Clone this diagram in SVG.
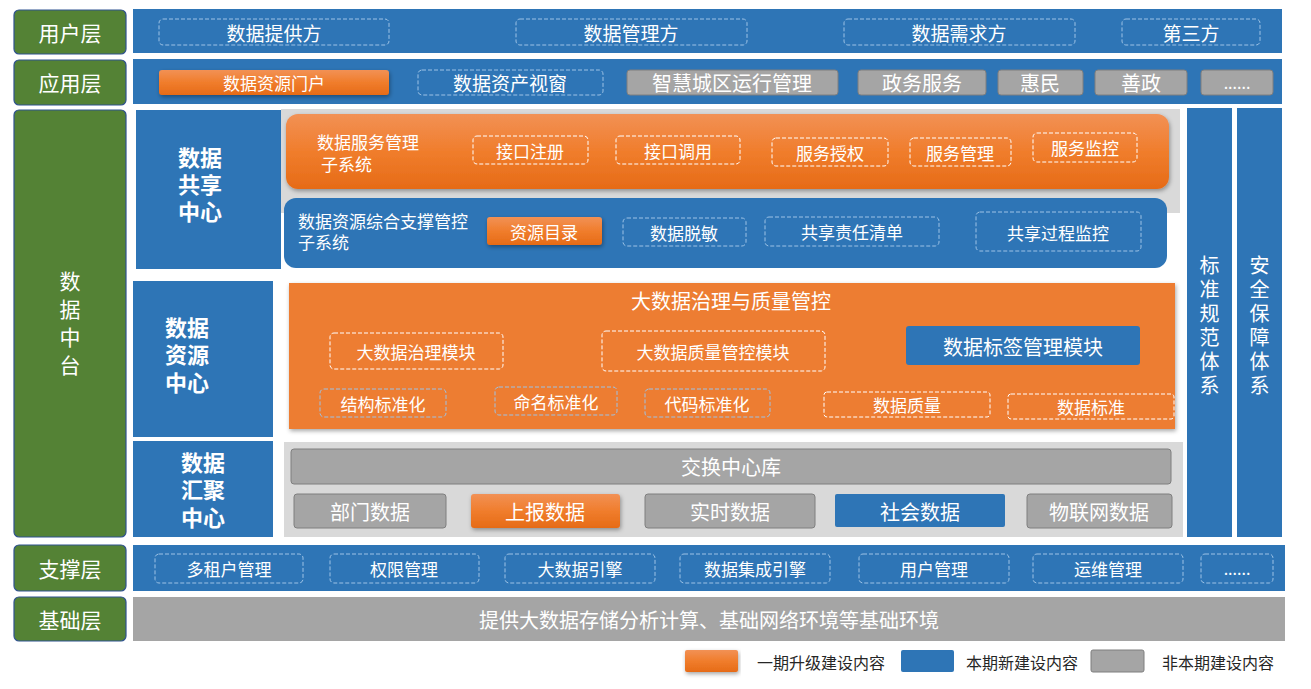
<svg xmlns="http://www.w3.org/2000/svg" width="1311" height="689" viewBox="0 0 1311 689">
<defs>
<linearGradient id="og" x1="0" y1="0" x2="0" y2="1">
<stop offset="0" stop-color="#f29155"/>
<stop offset="0.5" stop-color="#f07d2c"/>
<stop offset="1" stop-color="#e66b17"/>
</linearGradient>
<filter id="sh" x="-5%" y="-20%" width="110%" height="150%">
<feDropShadow dx="1" dy="2" stdDeviation="2" flood-color="#000" flood-opacity="0.35"/>
</filter>
</defs>
<style>
text{font-family:"Noto Sans CJK SC","Microsoft YaHei",sans-serif;fill:#fff;}
.ml{font-family:"Liberation Sans","Noto Sans CJK SC",sans-serif;}
.c{text-anchor:middle;dominant-baseline:central;}
.grn{fill:#548235;stroke:#2f528f;stroke-width:1.2;}
.blu{fill:#2e75b6;}
.gry{fill:#a5a5a5;stroke:#7f7f7f;stroke-width:1;}
.dl{fill:none;stroke:#9dc3e6;stroke-width:1;stroke-dasharray:4 2;}
.dw{fill:none;stroke:#fff;stroke-width:1;stroke-dasharray:4 2;}
.t21{font-size:21px;}
.t20{font-size:20px;}
.t19{font-size:19px;}
.t17{font-size:17px;}
.t16{font-size:16px;}
.b{font-size:22px;font-weight:bold;}
.v{writing-mode:vertical-rl;glyph-orientation-vertical:0;}
.lg{font-size:16px;fill:#262626;dominant-baseline:central;}
</style>

<!-- 用户层 -->
<g id="layer-user">
<rect class="grn" x="14" y="10" width="112" height="44" rx="5"/>
<text class="c t21" x="70" y="32">用户层</text>
<rect class="blu" x="133" y="9" width="1149" height="44"/>
<rect class="dl" x="159" y="19" width="230" height="26" rx="4"/>
<text class="c t19" x="274" y="32">数据提供方</text>
<rect class="dl" x="516" y="19" width="231" height="26" rx="4"/>
<text class="c t19" x="631" y="32">数据管理方</text>
<rect class="dl" x="844" y="19" width="231" height="26" rx="4"/>
<text class="c t19" x="959" y="32">数据需求方</text>
<rect class="dl" x="1122" y="19" width="138" height="26" rx="4"/>
<text class="c t19" x="1191" y="32">第三方</text>
</g>

<!-- 应用层 -->
<g id="layer-app">
<rect class="grn" x="14" y="60" width="112" height="45" rx="5"/>
<text class="c t21" x="70" y="82">应用层</text>
<rect class="blu" x="133" y="59" width="1149" height="45"/>
<rect x="159" y="70" width="230" height="25" rx="3" fill="url(#og)" filter="url(#sh)"/>
<text class="c t17" x="274" y="82">数据资源门户</text>
<rect class="dl" x="418" y="70" width="185" height="25" rx="4"/>
<text class="c t19" x="510" y="82">数据资产视窗</text>
<rect class="gry" x="627" y="70" width="211" height="25" rx="3"/>
<text class="c t20" x="732" y="82">智慧城区运行管理</text>
<rect class="gry" x="858" y="70" width="128" height="25" rx="3"/>
<text class="c t20" x="922" y="82">政务服务</text>
<rect class="gry" x="998" y="70" width="85" height="25" rx="3"/>
<text class="c t20" x="1040" y="82">惠民</text>
<rect class="gry" x="1095" y="70" width="92" height="25" rx="3"/>
<text class="c t20" x="1141" y="82">善政</text>
<rect class="gry" x="1201" y="70" width="72" height="25" rx="3"/>
<text class="c t16" x="1237" y="82">......</text>
</g>

<!-- 数据中台 -->
<g id="data-platform">
<rect class="grn" x="14" y="110" width="112" height="427" rx="5"/>
<text class="t21 v" x="70" y="271" letter-spacing="7">数据中台</text>
</g>

<!-- 标准规范体系 -->
<g id="standard-system">
<rect class="blu" x="1187" y="108" width="45" height="429"/>
<text class="t20 v" x="1209.5" y="255" letter-spacing="4">标准规范体系</text>
</g>

<!-- 安全保障体系 -->
<g id="security-system">
<rect class="blu" x="1237" y="108" width="45" height="429"/>
<text class="t20 v" x="1259.5" y="255" letter-spacing="4">安全保障体系</text>
</g>

<!-- 数据共享中心 -->
<g id="sharing-center">
<rect class="blu" x="136" y="110" width="145" height="159"/>
<text class="b ml"><tspan x="178" y="166">数据</tspan><tspan x="178" y="193">共享</tspan><tspan x="178" y="220">中心</tspan></text>
<rect x="281" y="109" width="899" height="104" fill="#d9d9d9"/>
</g>

<g id="service-subsystem">
<rect x="286" y="114" width="883" height="75" rx="12" fill="url(#og)" filter="url(#sh)"/>
<text class="t17 ml"><tspan x="317" y="149">数据服务管理</tspan><tspan x="321" y="171">子系统</tspan></text>
<rect class="dw" x="473" y="136" width="115" height="28" rx="4"/>
<text class="c t17" x="530" y="150">接口注册</text>
<rect class="dw" x="616" y="136" width="124" height="28" rx="4"/>
<text class="c t17" x="678" y="150">接口调用</text>
<rect class="dw" x="772" y="138" width="116" height="28" rx="4"/>
<text class="c t17" x="830" y="152">服务授权</text>
<rect class="dw" x="910" y="138" width="101" height="28" rx="4"/>
<text class="c t17" x="960" y="152">服务管理</text>
<rect class="dw" x="1033" y="133" width="104" height="29" rx="4"/>
<text class="c t17" x="1085" y="147">服务监控</text>
</g>

<g id="support-subsystem">
<rect class="blu" x="284" y="198" width="883" height="70" rx="12"/>
<text class="t17 ml"><tspan x="298" y="228">数据资源综合支撑管控</tspan><tspan x="298" y="249">子系统</tspan></text>
<rect x="487" y="217" width="115" height="28" rx="3" fill="url(#og)" filter="url(#sh)"/>
<text class="c t17" x="544" y="231">资源目录</text>
<rect class="dl" x="623" y="218" width="123" height="28" rx="4"/>
<text class="c t17" x="684" y="232">数据脱敏</text>
<rect class="dl" x="765" y="217" width="174" height="29" rx="4"/>
<text class="c t17" x="852" y="231">共享责任清单</text>
<rect class="dl" x="976" y="212" width="165" height="39" rx="4"/>
<text class="c t17" x="1058" y="232">共享过程监控</text>
</g>

<!-- 数据资源中心 -->
<g id="resource-center">
<rect class="blu" x="133" y="281" width="140" height="156"/>
<text class="b ml"><tspan x="165" y="336">数据</tspan><tspan x="165" y="363">资源</tspan><tspan x="165" y="391">中心</tspan></text>
</g>

<g id="governance">
<rect x="289" y="283" width="886" height="146" fill="#ed7d31" filter="url(#sh)"/>
<text class="c t20" x="731" y="300">大数据治理与质量管控</text>
<rect class="dw" x="330" y="333" width="173" height="36" rx="4"/>
<text class="c t17" x="416" y="351">大数据治理模块</text>
<rect class="dw" x="602" y="331" width="223" height="40" rx="4"/>
<text class="c t17" x="713" y="351">大数据质量管控模块</text>
<rect x="906" y="326" width="234" height="39" rx="3" fill="#2e75b6"/>
<text class="c t20" x="1023" y="346">数据标签管理模块</text>
<rect class="dl" x="320" y="389" width="126" height="28" rx="4"/>
<text class="c t17" x="383" y="403">结构标准化</text>
<rect class="dl" x="495" y="387" width="122" height="28" rx="4"/>
<text class="c t17" x="556" y="401">命名标准化</text>
<rect class="dl" x="645" y="389" width="125" height="28" rx="4"/>
<text class="c t17" x="707" y="403">代码标准化</text>
<rect class="dw" x="824" y="392" width="166" height="25" rx="3"/>
<text class="c t17" x="907" y="404">数据质量</text>
<rect class="dw" x="1008" y="394" width="166" height="25" rx="3"/>
<text class="c t17" x="1091" y="406">数据标准</text>
</g>

<!-- 数据汇聚中心 -->
<g id="aggregation-center">
<rect class="blu" x="133" y="441" width="140" height="96"/>
<text class="b ml"><tspan x="181" y="471">数据</tspan><tspan x="181" y="498">汇聚</tspan><tspan x="181" y="526">中心</tspan></text>
</g>

<g id="exchange">
<rect x="284" y="442" width="899" height="95" fill="#d9d9d9"/>
<rect class="gry" x="291" y="449" width="880" height="35" rx="3"/>
<text class="c t20" x="731" y="466">交换中心库</text>
<rect class="gry" x="294" y="494" width="152" height="34" rx="3"/>
<text class="c t20" x="370" y="511">部门数据</text>
<rect x="471" y="494" width="149" height="34" rx="3" fill="url(#og)" filter="url(#sh)"/>
<text class="c t20" x="545" y="511">上报数据</text>
<rect class="gry" x="645" y="494" width="170" height="34" rx="3"/>
<text class="c t20" x="730" y="511">实时数据</text>
<rect x="835" y="494" width="170" height="33" rx="2" fill="#2e75b6"/>
<text class="c t20" x="920" y="511">社会数据</text>
<rect class="gry" x="1027" y="494" width="145" height="34" rx="3"/>
<text class="c t20" x="1099" y="511">物联网数据</text>
</g>

<!-- 支撑层 -->
<g id="layer-support">
<rect class="grn" x="14" y="545" width="112" height="46" rx="5"/>
<text class="c t21" x="70" y="568">支撑层</text>
<rect class="blu" x="133" y="545" width="1152" height="46"/>
<rect class="dl" x="155" y="554" width="148" height="29" rx="4"/>
<text class="c t17" x="229" y="568">多租户管理</text>
<rect class="dl" x="330" y="554" width="149" height="29" rx="4"/>
<text class="c t17" x="404" y="568">权限管理</text>
<rect class="dl" x="505" y="554" width="150" height="29" rx="4"/>
<text class="c t17" x="580" y="568">大数据引擎</text>
<rect class="dl" x="680" y="554" width="150" height="29" rx="4"/>
<text class="c t17" x="755" y="568">数据集成引擎</text>
<rect class="dl" x="859" y="554" width="150" height="29" rx="4"/>
<text class="c t17" x="934" y="568">用户管理</text>
<rect class="dl" x="1033" y="554" width="150" height="29" rx="4"/>
<text class="c t17" x="1108" y="568">运维管理</text>
<rect class="dl" x="1201" y="554" width="72" height="29" rx="4"/>
<text class="c t16" x="1237" y="568">......</text>
</g>

<!-- 基础层 -->
<g id="layer-base">
<rect class="grn" x="14" y="597" width="112" height="44" rx="5"/>
<text class="c t21" x="70" y="619">基础层</text>
<rect x="133" y="597" width="1152" height="44" fill="#a5a5a5"/>
<text class="c t20" x="709" y="619">提供大数据存储分析计算、基础网络环境等基础环境</text>
</g>

<!-- 图例 -->
<g id="legend">
<rect x="685" y="650" width="53" height="22" rx="2" fill="url(#og)" filter="url(#sh)"/>
<text class="lg" x="757" y="662">一期升级建设内容</text>
<rect x="901" y="650" width="53" height="22" rx="2" fill="#2e75b6"/>
<text class="lg" x="966" y="662">本期新建设内容</text>
<rect class="gry" x="1091" y="650" width="53" height="22" rx="2"/>
<text class="lg" x="1162" y="662">非本期建设内容</text>
</g>

<g id="connectors"></g>
</svg>
